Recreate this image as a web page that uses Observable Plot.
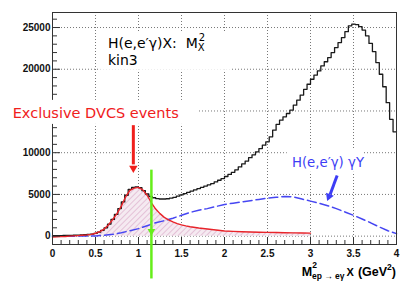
<!DOCTYPE html>
<html><head><meta charset="utf-8">
<script src="https://cdn.jsdelivr.net/npm/d3@7"></script>
<script src="https://cdn.jsdelivr.net/npm/@observablehq/plot@0.6"></script>
<style>body{margin:0;background:#fff} svg{display:block}</style>
</head><body><div id="chart"></div>
<script>
// ---- data ----
const binWidth = 0.04;
// H(e,e'γ)X histogram, 100 bins of 0.04 GeV² from 0 to 4
const allEvents = [
  50, 60, 70, 80, 90, 100, 110, 130, 150, 170,
  200, 250, 330, 480, 700, 1000, 1450, 2000, 2600, 3300,
  4100, 4900, 5600, 5850, 5900, 5800, 5450, 5050, 4750, 4600,
  4500, 4450, 4450, 4480, 4550, 4650, 4800, 4950, 5100, 5250,
  5400, 5550, 5700, 5850, 6000, 6150, 6300, 6500, 6700, 6900,
  7150, 7400, 7650, 7950, 8300, 8650, 9000, 9400, 9750, 10100,
  10500, 10900, 11300, 11900, 12700, 13400, 13900, 14300, 14700, 15100,
  15700, 16300, 16900, 17600, 18200, 18800, 19300, 19800, 20400, 20900,
  21400, 22000, 22600, 23200, 23800, 24500, 25200, 25400, 25350, 25100,
  24700, 24000, 23100, 22100, 20800, 19400, 17900, 16000, 14000, 12500
];
// Exclusive DVCS events (red)
const dvcsX = [0, 0.05, 0.1, 0.15, 0.2, 0.25, 0.3, 0.35, 0.4, 0.45, 0.5, 0.55, 0.6, 0.65, 0.7, 0.75, 0.8, 0.85, 0.9, 0.95,
  1.0, 1.05, 1.1, 1.15, 1.2, 1.25, 1.3, 1.35, 1.4, 1.45, 1.5, 1.55, 1.6, 1.7, 1.8, 1.9, 2.0, 2.1, 2.2, 2.3, 2.4, 2.5, 2.6, 2.7, 2.8, 2.9, 3.0];
const dvcsY = [-100, -80, -60, -40, 0, 30, 60, 100, 150, 220, 350, 550, 850, 1350, 2000, 2700, 3600, 4700, 5500, 5750,
  5850, 5550, 4900, 4000, 3250, 2700, 2250, 1950, 1700, 1500, 1350, 1230, 1130, 980, 860, 740, 620, 570, 530, 500, 470, 450, 430, 410, 395, 380, 360];
// H(e,e'γ)γY background (blue dashed)
const bgX = [0, 0.1, 0.2, 0.3, 0.4, 0.5, 0.6, 0.7, 0.8, 0.9, 1.0, 1.1, 1.2, 1.3, 1.4, 1.5, 1.6, 1.7, 1.8, 1.9, 2.0,
  2.1, 2.2, 2.3, 2.4, 2.5, 2.6, 2.7, 2.8, 2.9, 3.0, 3.1, 3.2, 3.3, 3.4, 3.5, 3.6, 3.7, 3.8, 3.9, 4.0];
const bgY = [0, 0, 0, 5, 15, 30, 100, 220, 400, 650, 900, 1250, 1600, 1850, 2150, 2500, 2850, 3100, 3300, 3550, 3800,
  3950, 4100, 4250, 4400, 4550, 4650, 4750, 4700, 4450, 4200, 3950, 3650, 3300, 2900, 2500, 2050, 1600, 1100, 650, 300];

const xTicks = [0, 0.5, 1, 1.5, 2, 2.5, 3, 3.5, 4];
const xTickLabels = ["0", "0.5", "1", "1.5", "2", "2.5", "3", "3.5", "4"];
const xMinor = [0.1,0.2,0.3,0.4,0.6,0.7,0.8,0.9,1.1,1.2,1.3,1.4,1.6,1.7,1.8,1.9,2.1,2.2,2.3,2.4,2.6,2.7,2.8,2.9,3.1,3.2,3.3,3.4,3.6,3.7,3.8,3.9];
const yTicks = [0, 5000, 10000, 15000, 20000, 25000];
// the 15000 label is hidden behind the "Exclusive DVCS events" box in the reference
const yTickLabels = [0, 5000, 10000, 20000, 25000];
const yMinor = [-1000,1000,2000,3000,4000,6000,7000,8000,9000,11000,12000,13000,14000,16000,17000,18000,19000,21000,22000,23000,24000,26000];

// annotations (data coordinates)
const arrowLines = [
  {x1: 0.94, y1: 13300, x2: 0.94, y2: 8600, c: "#f0201c", w: 3},
  {x1: 1.15, y1: 7970, x2: 1.15, y2: -5070, c: "#66ee1a", w: 2.5},
  {x1: 3.31, y1: 7270, x2: 3.228, y2: 5000, c: "#3d3df5", w: 3}
];
const arrowHeads = [
  {x: 0.94, y: 8150, c: "#f0201c", r: 4.3, a: 180},
  {x: 1.15, y: 600, c: "#66ee1a", r: 3.6, a: 180},
  {x: 3.215, y: 4750, c: "#3d3df5", r: 4.3, a: 202}
];
const whiteBoxes = [
  {x1: 0.56, x2: 2.09, y1: 24300, y2: 19870},
  {x1: 2.73, x2: 3.61, y1: 10300, y2: 7650}
];
const coverBox = [{x1: -0.49, x2: 1.69, y1: 16270, y2: 13390}];

const histo = allEvents.map((v, i) => ({x: i * binWidth, y: v}));
histo.push({x: allEvents.length * binWidth, y: allEvents[allEvents.length - 1]});
const dvcs = dvcsX.map((x, i) => ({x, y: dvcsY[i]}));
const bg = bgX.map((x, i) => ({x, y: bgY[i]}));

const plot = Plot.plot({
  width: 415, height: 290,
  marginLeft: 52, marginRight: 19, marginTop: 12, marginBottom: 46,
  x: {domain: [0, 4]},
  y: {domain: [-1000, 26800]},
  style: {fontFamily: "'Liberation Sans', Arial, sans-serif", fontSize: "10px", fontWeight: "bold", color: "#111", background: "white", overflow: "visible"},
  marks: [
    Plot.gridX(xTicks.slice(1, -1), {stroke: "#777", strokeOpacity: 1, strokeDasharray: "1,2"}),
    Plot.gridY(yTicks, {stroke: "#777", strokeOpacity: 1, strokeDasharray: "1,2"}),
    Plot.rect(whiteBoxes, {x1: "x1", x2: "x2", y1: "y1", y2: "y2", fill: "white"}),
    Plot.areaY(dvcs, {x: "x", y: "y", fill: "url(#hatch)"}),
    Plot.line(bg, {x: "x", y: "y", stroke: "#4646f2", strokeWidth: 1.5, strokeDasharray: "9,4"}),
    Plot.line(histo, {x: "x", y: "y", curve: "step-after", stroke: "#1a1a1a", strokeWidth: 1.3}),
    Plot.line(dvcs, {x: "x", y: "y", stroke: "#e8242a", strokeWidth: 1.4}),
    Plot.frame({stroke: "#333"}),
    Plot.axisX(xMinor, {tickSize: -4, tickFormat: () => "", stroke: "#333"}),
    Plot.axisX(xTicks, {tickSize: -7, tickFormat: () => "", stroke: "#333"}),
    Plot.axisX(xTicks, {tickSize: 0, tickPadding: 5, tickFormat: (d, i) => xTickLabels[i]}),
    Plot.axisY(yMinor, {tickSize: -5, tickFormat: () => "", stroke: "#333"}),
    Plot.axisY(yTicks, {tickSize: -8, tickFormat: () => "", stroke: "#333"}),
    Plot.axisY(yTickLabels, {tickSize: 0, tickPadding: 2, tickFormat: d => String(d)}),
    Plot.rect(coverBox, {x1: "x1", x2: "x2", y1: "y1", y2: "y2", fill: "white"}),
    Plot.link(arrowLines, {x1: "x1", y1: "y1", x2: "x2", y2: "y2", stroke: "c", strokeWidth: "w"}),
    Plot.dot(arrowHeads, {x: "x", y: "y", r: "r", fill: "c", symbol: "triangle", rotate: "a"})
  ]
});

const svg = d3.select(plot);
const defs = svg.insert("defs", ":first-child");
const pat = defs.append("pattern").attr("id", "hatch").attr("patternUnits", "userSpaceOnUse")
  .attr("width", 4).attr("height", 4).attr("patternTransform", "rotate(-45)");
pat.append("rect").attr("width", 4).attr("height", 4).attr("fill", "#f5eaf1");
pat.append("line").attr("x1", 0).attr("y1", 0).attr("x2", 4).attr("y2", 0).attr("stroke", "#d9a6c6").attr("stroke-width", 1.2);

const sx = plot.scale("x"), sy = plot.scale("y");
const X = v => sx.apply(v), Y = v => sy.apply(v);
const comic = "'DejaVu Sans', Verdana, sans-serif";
const addText = (x, y, size, color) => svg.append("text").attr("x", X(x)).attr("y", Y(y))
  .attr("text-anchor", "start").attr("font-family", comic).attr("font-size", size)
  .attr("font-weight", "normal").attr("fill", color);

// title text
const t1 = addText(0.65, 22500, 14, "#000");
t1.append("tspan").text("H(e,e′γ)X:  M");
t1.append("tspan").attr("font-size", 10).attr("dy", 3).text("X");
t1.append("tspan").attr("font-size", 10).attr("dy", -10).attr("dx", -6).text("2");
addText(0.65, 20470, 14, "#000").text("kin3");

// red label
addText(-0.457, 14150, 14.5, "#f0201c").text("Exclusive DVCS events");

// blue label
addText(2.79, 8200, 13.3, "#3d3df5").text("H(e,e′γ) γY");

// x axis title
const xt = svg.append("text").attr("x", X(4)).attr("y", Y(-4780)).attr("text-anchor", "end")
  .attr("font-family", "'Liberation Sans', Arial, sans-serif").attr("font-weight", "bold").attr("font-size", 12.5).attr("fill", "#000");
xt.append("tspan").text("M");
xt.append("tspan").attr("font-size", 8.5).attr("dy", -8).text("2");
xt.append("tspan").attr("font-size", 8.5).attr("dy", 11).attr("dx", -5).text("ep → eγ");
xt.append("tspan").attr("font-size", 11).attr("dy", -3).attr("dx", 2).text("X");
xt.append("tspan").attr("dx", 4).text("(GeV");
xt.append("tspan").attr("font-size", 8.5).attr("dy", -6).text("2");
xt.append("tspan").attr("dy", 6).text(")");

document.getElementById("chart").appendChild(plot);
</script>
</body></html>
